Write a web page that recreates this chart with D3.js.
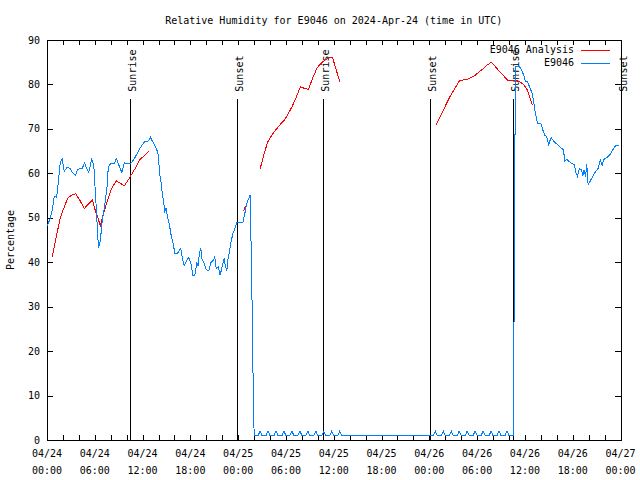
<!DOCTYPE html>
<html>
<head>
<meta charset="utf-8">
<script src="https://cdn.jsdelivr.net/npm/d3@7/dist/d3.min.js"></script>
<style>
  html, body { margin: 0; padding: 0; background: #fff; }
  text { font-family: "DejaVu Sans Mono", "Liberation Mono", monospace; font-size: 10px; fill: #000; }
</style>
</head>
<body>
<svg id="chart" width="640" height="480"></svg>
<script>
// ---- Data (hours since 2024-04-24 00:00 UTC, relative humidity %) ----
const titleText = "Relative Humidity for E9046 on 2024-Apr-24 (time in UTC)";
const yLabel = "Percentage";
const seriesNames = ["E9046 Analysis", "E9046"];
const seriesColors = ["#ff0000", "#0080ff"];

const yTicks = [0, 10, 20, 30, 40, 50, 60, 70, 80, 90];
const xTickHours = [0, 6, 12, 18, 24, 30, 36, 42, 48, 54, 60, 66, 72];
const xMinorHours = [0,2,4,6,8,10,12,14,16,18,20,22,24,26,28,30,32,34,36,38,40,42,44,46,48,50,52,54,56,58,60,62,64,66,68,70,72];
const xTickDates = ["04/24","04/24","04/24","04/24","04/25","04/25","04/25","04/25","04/26","04/26","04/26","04/26","04/27"];
const xTickTimes = ["00:00","06:00","12:00","18:00","00:00","06:00","12:00","18:00","00:00","06:00","12:00","18:00","00:00"];

const sunriseHours = [10.43, 34.6, 58.5];
const sunsetHours = [23.91, 48.04, 72.0];

// E9046 observations
const e9046 = [
  [0.0,48.1],[0.34,49.5],[0.67,51.7],[0.92,54.9],[1.22,54.6],[1.42,58.1],[1.67,62.6],[1.92,63.2],
  [2.17,60.4],[2.51,61.4],[2.89,61.1],[3.18,60.2],[3.61,59.6],[3.86,60.9],[4.44,61.1],[4.69,62.4],
  [4.99,61.1],[5.24,60.2],[5.62,63.2],[5.87,61.9],[6.03,57.0],[6.25,50.2],[6.37,45.7],[6.5,43.3],
  [6.7,45.0],[6.95,49.5],[7.29,53.3],[7.54,57.0],[7.7,61.5],[8.04,62.3],[8.46,62.3],[8.71,63.3],
  [9.05,61.7],[9.39,60.2],[9.71,62.4],[10.14,62.1],[10.64,62.4],[11.06,63.6],[11.65,65.6],[12.23,67.1],
  [12.73,67.3],[12.98,68.1],[13.36,66.8],[13.78,65.3],[13.99,64.1],[14.11,60.4],[14.33,57.8],[14.45,55.9],
  [14.61,54.0],[14.79,51.4],[14.95,52.1],[15.12,50.2],[15.37,48.4],[15.62,45.7],[15.87,43.9],[16.05,42.0],
  [16.37,42.0],[16.62,42.7],[16.8,43.1],[16.96,41.2],[17.22,39.2],[17.55,40.5],[17.81,41.1],[18.06,39.8],
  [18.31,37.1],[18.56,37.1],[18.81,39.9],[18.97,39.2],[19.14,42.0],[19.31,43.1],[19.48,40.5],[19.73,39.8],
  [19.98,38.3],[20.32,38.1],[20.57,39.9],[20.9,40.5],[21.07,41.2],[21.24,38.6],[21.49,39.0],[21.74,37.1],
  [21.99,39.0],[22.24,40.9],[22.41,39.0],[22.58,38.1],[22.74,40.9],[22.91,42.4],[23.08,44.3],[23.34,46.5],
  [23.59,47.6],[23.84,48.9],[24.59,48.9],[24.84,51.0],[25.09,53.3],[25.35,54.4],[25.51,55.1],[25.72,34.0],
  [25.92,7.7],[26.01,1],
  [26.5,1],[26.75,2],[27.0,1],[27.5,1],[27.75,2],[28.0,1],[28.5,1],[28.75,2],[29.0,1],[29.5,1],[29.75,2],[30.0,1],
  [30.5,1],[30.75,2],[31.0,1],[31.5,1],[31.75,2],[32.0,1],[32.5,1],[32.75,2],[33.0,1],[33.5,1],[33.75,2],[34.0,1],
  [34.5,1],[34.75,2],[35.0,1],[35.5,1],[35.75,2],[36.0,1],[36.5,1],[36.75,2],[37.0,1],
  [48.5,1],[48.75,2],[49.0,1],[49.5,1],[49.75,2],[50.0,1],[50.5,1],[50.75,2],[51.0,1],[51.5,1],[51.75,2],[52.0,1],
  [52.5,1],[52.75,2],[53.0,1],[53.5,1],[53.75,2],[54.0,1],[54.5,1],[54.75,2],[55.0,1],[55.5,1],[55.75,2],[56.0,1],
  [56.5,1],[56.75,2],[57.0,1],[57.5,1],[57.75,2],[58.0,1],[58.55,1],
  [58.62,21.8],[58.72,63.4],[58.86,84.0],[59.31,84.0],[59.56,83.3],[59.85,82.1],[60.07,80.6],[60.32,80.6],
  [60.57,79.5],[60.91,78.0],[61.16,75.4],[61.32,73.5],[61.57,71.3],[61.99,71.3],[62.24,69.8],[62.49,68.6],
  [62.74,68.3],[62.99,66.4],[63.17,67.5],[63.33,68.0],[63.58,67.3],[63.84,66.8],[64.17,66.4],[64.5,65.8],
  [64.84,65.3],[65.0,62.8],[65.25,63.2],[65.59,62.6],[65.84,62.3],[66.18,62.0],[66.43,60.0],[66.6,59.3],
  [66.85,61.1],[67.1,60.8],[67.27,59.5],[67.44,60.8],[67.61,59.3],[67.77,62.0],[67.94,57.4],[68.27,58.5],
  [68.61,59.6],[68.86,60.4],[69.2,61.1],[69.45,63.0],[69.7,61.9],[69.87,63.0],[70.12,63.4],[70.46,63.8],
  [70.79,64.5],[71.04,65.3],[71.38,66.2],[71.79,66.2]
];

// E9046 Analysis (null = gap)
const analysis = [
  [0.67,41.2],[1.0,44.3],[1.35,47.3],[1.67,50.0],[2.1,52.1],[2.6,54.4],[3.1,55.1],[3.6,55.4],[4.1,54.0],
  [4.7,52.1],[5.2,53.1],[5.7,54.0],[6.1,51.4],[6.4,49.9],[6.7,48.2],[7.04,50.6],[7.54,53.6],[8.1,56.6],
  [8.7,58.3],[9.2,57.8],[9.7,57.2],[10.2,58.5],[10.7,60.0],[11.2,61.5],[11.7,63.2],[12.3,64.1],[12.8,65.0],
  null,
  [24.72,51.6],[24.88,52.6],
  null,
  [26.77,61.1],[27.05,63.0],[27.4,65.3],[27.73,67.1],[28.24,68.6],[28.74,69.8],[29.24,70.9],[29.82,72.0],
  [30.32,73.5],[30.82,75.2],[31.33,77.3],[31.83,79.5],[32.33,79.1],[32.83,78.9],[33.34,81.4],[33.93,83.8],
  [34.43,84.8],[34.93,85.5],[35.44,86.0],[35.85,86.0],[36.19,84.0],[36.78,80.5],
  null,
  [48.84,70.9],[49.26,72.4],[49.67,73.9],[50.1,75.5],[50.6,77.3],[51.11,78.8],[51.77,80.8],[52.27,81.0],
  [52.78,81.2],[53.28,81.6],[53.78,82.1],[54.28,82.9],[54.79,83.6],[55.29,84.4],[55.79,85.0],[56.3,84.0],
  [56.8,82.9],[57.3,82.0],[57.8,81.0],[58.31,81.0],[58.81,81.0],[59.31,80.6],[59.85,80.0],[60.28,78.8],
  [60.57,77.3],[60.91,75.4]
];

// ---- Layout ----
const svg = d3.select("#chart");
const mLeft = 47, mRight = 620.5, mTop = 40, mBottom = 440;

const x = d3.scaleLinear().domain([0, 72]).range([mLeft, mRight]);
const y = d3.scaleLinear().domain([0, 90]).range([mBottom, mTop]);

// Title
svg.append("text")
  .attr("x", (mLeft + mRight) / 2).attr("y", 24)
  .attr("text-anchor", "middle")
  .text(titleText);

// Y label
svg.append("text")
  .attr("transform", `translate(14,${(mTop + mBottom) / 2}) rotate(-90)`)
  .attr("text-anchor", "middle")
  .text(yLabel);

const g = svg.append("g").attr("shape-rendering", "crispEdges");

// Y ticks (left and right, inward)
g.selectAll(".yt").data(yTicks).enter().append("line")
  .attr("x1", mLeft).attr("x2", mLeft + 6)
  .attr("y1", d => Math.round(y(d)) + 0.5).attr("y2", d => Math.round(y(d)) + 0.5)
  .attr("stroke", "#000");
g.selectAll(".ytr").data(yTicks).enter().append("line")
  .attr("x1", mRight - 6).attr("x2", mRight)
  .attr("y1", d => Math.round(y(d)) + 0.5).attr("y2", d => Math.round(y(d)) + 0.5)
  .attr("stroke", "#000");
svg.selectAll(".ylab").data(yTicks).enter().append("text")
  .attr("x", mLeft - 7).attr("y", d => y(d) + 3.5)
  .attr("text-anchor", "end")
  .text(d => d);

// X ticks (bottom and top, inward)
g.selectAll(".xt").data(xMinorHours).enter().append("line")
  .attr("x1", d => Math.round(x(d)) + 0.5).attr("x2", d => Math.round(x(d)) + 0.5)
  .attr("y1", mBottom).attr("y2", mBottom - 5)
  .attr("stroke", "#000");
g.selectAll(".xtt").data(xMinorHours).enter().append("line")
  .attr("x1", d => Math.round(x(d)) + 0.5).attr("x2", d => Math.round(x(d)) + 0.5)
  .attr("y1", mTop).attr("y2", mTop + 5)
  .attr("stroke", "#000");
const xl = svg.selectAll(".xlab").data(xTickHours).enter().append("text")
  .attr("text-anchor", "middle");
xl.append("tspan").attr("x", d => x(d)).attr("y", 457).text((d, i) => xTickDates[i]);
xl.append("tspan").attr("x", d => x(d)).attr("y", 474).text((d, i) => xTickTimes[i]);

// Sun lines
const sunTop = 76.8;
const sunEvents = sunriseHours.map(h => ({h, label: "Sunrise"}))
  .concat(sunsetHours.map(h => ({h, label: "Sunset"})));
g.selectAll(".sun").data(sunEvents).enter().append("line")
  .attr("x1", d => Math.round(x(d.h)) + 0.5).attr("x2", d => Math.round(x(d.h)) + 0.5)
  .attr("y1", y(0)).attr("y2", y(sunTop))
  .attr("stroke", "#000");
svg.selectAll(".sunlab").data(sunEvents).enter().append("text")
  .attr("transform", d => `translate(${x(d.h) + 6},${y(sunTop) - 7}) rotate(-90)`)
  .attr("text-anchor", "start")
  .text(d => d.label);

// Series lines
const line = d3.line()
  .defined(d => d !== null)
  .x(d => x(d[0]))
  .y(d => y(d[1]));

svg.append("path").datum(analysis)
  .attr("d", line).attr("fill", "none")
  .attr("stroke", seriesColors[0]).attr("stroke-width", 1)
  .attr("shape-rendering", "crispEdges");
svg.append("path").datum(e9046)
  .attr("d", line).attr("fill", "none")
  .attr("stroke", seriesColors[1]).attr("stroke-width", 1)
  .attr("shape-rendering", "crispEdges");

// Frame
g.append("rect")
  .attr("x", mLeft + 0.5).attr("y", mTop + 0.5)
  .attr("width", Math.round(mRight - mLeft)).attr("height", mBottom - mTop)
  .attr("fill", "none").attr("stroke", "#000");

// Legend
const legend = svg.append("g");
seriesNames.forEach((name, i) => {
  const ly = 49.5 + i * 13;
  legend.append("text")
    .attr("x", 574).attr("y", ly + 3.5)
    .attr("text-anchor", "end")
    .text(name);
  legend.append("line")
    .attr("x1", 581).attr("x2", 610)
    .attr("y1", Math.round(ly) + 0.5).attr("y2", Math.round(ly) + 0.5)
    .attr("stroke", seriesColors[i]).attr("shape-rendering", "crispEdges");
});
</script>
</body>
</html>
